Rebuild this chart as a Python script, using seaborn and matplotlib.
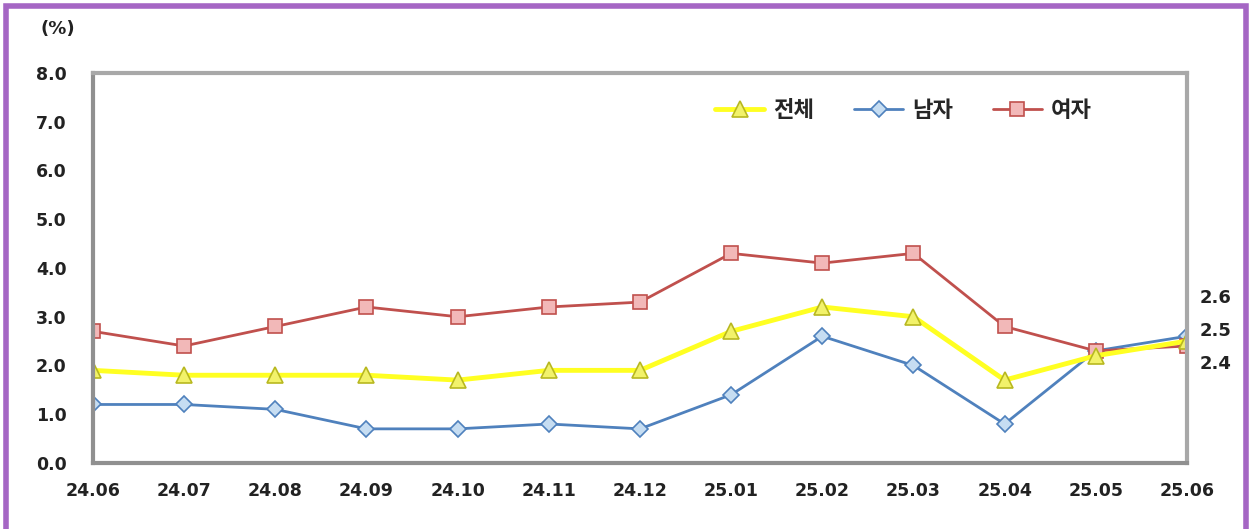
import pandas as pd
import matplotlib.pyplot as plt
import seaborn as sns
from matplotlib.patches import Rectangle

months = ['24.06', '24.07', '24.08', '24.09', '24.10', '24.11', '24.12',
          '25.01', '25.02', '25.03', '25.04', '25.05', '25.06']
total = [1.9, 1.8, 1.8, 1.8, 1.7, 1.9, 1.9, 2.7, 3.2, 3.0, 1.7, 2.2, 2.5]
male = [1.2, 1.2, 1.1, 0.7, 0.7, 0.8, 0.7, 1.4, 2.6, 2.0, 0.8, 2.3, 2.6]
female = [2.7, 2.4, 2.8, 3.2, 3.0, 3.2, 3.3, 4.3, 4.1, 4.3, 2.8, 2.3, 2.4]
end_labels = ['2.6', '2.5', '2.4']
end_values = [2.6, 2.5, 2.4]

df = pd.DataFrame({'month': months, '전체': total, '남자': male, '여자': female})
df['pos'] = range(len(months))

sns.set_theme(style="white")
plt.rcParams['font.family'] = ['DejaVu Sans', 'Noto Sans CJK KR']

fig = plt.figure(figsize=(12.52, 5.29), dpi=100)
ax = fig.add_axes([0.0743, 0.1248, 0.8737, 0.7372])

styles = {
    '남자': dict(color='#4F81BD', marker='D', markersize=8, markerfacecolor='#C6DDF2',
                markeredgecolor='#4F81BD', linewidth=2),
    '여자': dict(color='#C0504D', marker='s', markersize=10, markerfacecolor='#F2B8B8',
                markeredgecolor='#C0504D', linewidth=2),
    '전체': dict(color='#FFFF22', marker='^', markersize=12, markerfacecolor='#F2F26A',
                markeredgecolor='#B8B820', linewidth=3.5),
}
for name in ['남자', '여자', '전체']:
    sns.lineplot(data=df, x='pos', y=name, ax=ax, label=name, markeredgewidth=1.2,
                 **styles[name])

ax.set_xlim(0, len(months) - 1)
ax.set_ylim(0, 8)
ax.set_xticks(df['pos'])
ax.set_xticklabels(months)
ax.set_yticks([i for i in range(9)])
ax.set_yticklabels([f'{i:.1f}' for i in range(9)])
ax.set_xlabel('')
ax.set_ylabel('')
ax.tick_params(axis='both', direction='in', length=7, width=1, color='#A0A0A0',
               labelsize=12.5, labelcolor='#222222')
ax.tick_params(axis='y', pad=19)
ax.tick_params(axis='x', pad=14)
for lab in ax.get_xticklabels() + ax.get_yticklabels():
    lab.set_fontweight('bold')
for side in ['left', 'bottom']:
    ax.spines[side].set_color('#909090')
    ax.spines[side].set_linewidth(3)
for side in ['top', 'right']:
    ax.spines[side].set_color('#A8A8A8')
    ax.spines[side].set_linewidth(3)

handles, labels = ax.get_legend_handles_labels()
order = [labels.index(n) for n in ['전체', '남자', '여자']]
ax.legend([handles[i] for i in order], [labels[i] for i in order], loc='center',
          bbox_to_anchor=(0.741, 0.905), ncol=3, frameon=False, handlelength=2.2,
          handletextpad=0.4, columnspacing=1.8, prop={'size': 16, 'weight': 'bold'})

for txt, v in zip(end_labels, end_values):
    ax.text(len(months) - 1 + 0.14, 2.71 + (v - 2.5) * 6.7, txt, ha='left', va='center',
            fontsize=13, fontweight='bold', color='#222222')

fig.text(0.032, 0.935, '(%)', fontsize=13, fontweight='bold', color='#222222')

fig.patches.append(Rectangle((0.005, -0.05), 0.99, 1.038, transform=fig.transFigure,
                             fill=False, edgecolor='#A566C4', linewidth=4))

fig.savefig('out.png', dpi=100)
